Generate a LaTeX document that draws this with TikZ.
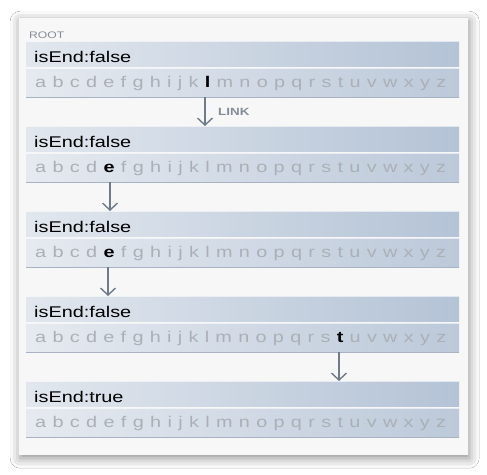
\documentclass[tikz,border=0pt]{standalone}
\usepackage{fontspec}
\setmainfont{Liberation Sans}[FakeStretch=1.28]
\usetikzlibrary{arrows.meta,shadows.blur}
\definecolor{hdL}{HTML}{E2E7EE}
\definecolor{hdR}{HTML}{B4C3D6}
\definecolor{rwL}{HTML}{E6EAF0}
\definecolor{rwR}{HTML}{BCC9DA}
\definecolor{ltr}{HTML}{ABB0B6}
\definecolor{arrc}{HTML}{6F7B88}
\definecolor{panelc}{HTML}{F7F7F7}
\definecolor{lblc}{HTML}{848D97}
\definecolor{edgeD}{HTML}{A7B3C2}
\newcommand\hl[1]{{\color{black}\bfseries #1}}
\newcommand\abcrow[1]{\makebox[411pt][s]{#1}}
\tikzset{
  bar/.style={anchor=north west, minimum width=433pt, inner sep=0pt, draw=none},
  hdr/.style={bar, minimum height=25pt, left color=hdL, right color=hdR},
  rowbar/.style={bar, minimum height=29pt, left color=rwL, right color=rwR},
  hdtext/.style={anchor=base west, inner sep=0pt, font=\fontsize{15.5}{18}\selectfont, text=black},
  ltext/.style={anchor=base west, inner sep=0pt, font=\fontsize{15.5}{18}\selectfont, text=ltr},
  arr/.style={draw=arrc, line width=1.6pt, -{Straight Barb[length=7pt,width=15pt,line width=1.4pt]}},
  small/.style={anchor=base west, inner sep=0pt, font=\fontsize{9.5}{11}\selectfont\bfseries, text=lblc}
}
\begin{document}
\begin{tikzpicture}[x=1pt,y=-1pt]
\useasboundingbox (0,0) rectangle (487,474);
\fill[white] (0,0) rectangle (487,474);
\node[anchor=north west, minimum width=449pt, minimum height=437pt, inner sep=0pt,
  fill=panelc, blur shadow={shadow xshift=1pt, shadow yshift=-3pt, shadow blur radius=10pt, shadow opacity=45}] (panel) at (19,18) {};
\node[small, font=\fontsize{9.5}{11}\selectfont, text=lblc] (root) at (29,38) {ROOT};
% blocks
\foreach \i/\t in {1/41,2/126,3/211,4/296,5/381}{
  \node[hdr] (h\i) at (26,\t) {};
  \node[rowbar] (r\i) at (26,\t+27) {};
  \draw[edgeD, line width=0.8pt] (r\i.south west) -- (r\i.south east);
  \draw[white, opacity=0.6, line width=0.8pt] (h\i.north west) -- (h\i.north east);
  \draw[white, opacity=0.6, line width=0.8pt] (r\i.north west) -- (r\i.north east);
}
\node[hdtext] (t1) at (34,62) {isEnd:false};
\node[hdtext] (t2) at (34,147) {isEnd:false};
\node[hdtext] (t3) at (34,232) {isEnd:false};
\node[hdtext] (t4) at (34,317) {isEnd:false};
\node[hdtext] (t5) at (34,402) {isEnd:true};
\node[ltext] (l1) at (35,87) {\abcrow{a\hfill b\hfill c\hfill d\hfill e\hfill f\hfill g\hfill h\hfill i\hfill j\hfill k\hfill \hl{l}\hfill m\hfill n\hfill o\hfill p\hfill q\hfill r\hfill s\hfill t\hfill u\hfill v\hfill w\hfill x\hfill y\hfill z}};
\node[ltext] (l2) at (35,172) {\abcrow{a\hfill b\hfill c\hfill d\hfill \hl{e}\hfill f\hfill g\hfill h\hfill i\hfill j\hfill k\hfill l\hfill m\hfill n\hfill o\hfill p\hfill q\hfill r\hfill s\hfill t\hfill u\hfill v\hfill w\hfill x\hfill y\hfill z}};
\node[ltext] (l3) at (35,257) {\abcrow{a\hfill b\hfill c\hfill d\hfill \hl{e}\hfill f\hfill g\hfill h\hfill i\hfill j\hfill k\hfill l\hfill m\hfill n\hfill o\hfill p\hfill q\hfill r\hfill s\hfill t\hfill u\hfill v\hfill w\hfill x\hfill y\hfill z}};
\node[ltext] (l4) at (35,342) {\abcrow{a\hfill b\hfill c\hfill d\hfill e\hfill f\hfill g\hfill h\hfill i\hfill j\hfill k\hfill l\hfill m\hfill n\hfill o\hfill p\hfill q\hfill r\hfill s\hfill \hl{t}\hfill u\hfill v\hfill w\hfill x\hfill y\hfill z}};
\node[ltext] (l5) at (35,427) {\abcrow{a\hfill b\hfill c\hfill d\hfill e\hfill f\hfill g\hfill h\hfill i\hfill j\hfill k\hfill l\hfill m\hfill n\hfill o\hfill p\hfill q\hfill r\hfill s\hfill t\hfill u\hfill v\hfill w\hfill x\hfill y\hfill z}};
% arrows
\coordinate (a1) at (205,0);
\coordinate (a2) at (110,0);
\coordinate (a3) at (108,0);
\coordinate (a4) at (339,0);
\draw[arr] (r1.south -| a1) -- (h2.north -| a1);
\draw[arr] (r2.south -| a2) -- (h3.north -| a2);
\draw[arr] (r3.south -| a3) -- (h4.north -| a3);
\draw[arr] (r4.south -| a4) -- (h5.north -| a4);
\node[small, font=\fontsize{10.5}{12}\selectfont\bfseries] (link) at (218,115) {LINK};
\end{tikzpicture}
\end{document}
